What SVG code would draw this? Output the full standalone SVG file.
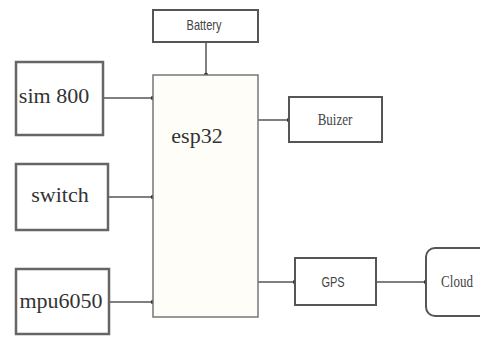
<svg xmlns="http://www.w3.org/2000/svg" width="480" height="338" viewBox="0 0 480 338">
<defs>
<marker id="dot" markerWidth="6" markerHeight="6" refX="3" refY="3" markerUnits="userSpaceOnUse">
<circle cx="3" cy="3" r="2.2" fill="#333"/>
</marker>
<style>
.box{fill:#fff;stroke:#555;stroke-width:2}
.big{fill:#fff;stroke:#666;stroke-width:2.5}
.mcu{fill:#fffdf8;stroke:#777;stroke-width:1.5}
.lbl{font-family:"Liberation Serif",serif;font-size:22px;fill:#333;text-anchor:middle}
.sm{font-family:"Liberation Sans",sans-serif;font-size:11px;fill:#444;text-anchor:middle}
.sms{font-family:"Liberation Serif",serif;font-size:13px;fill:#444;text-anchor:middle}
.con{stroke:#555;stroke-width:1.5;fill:none;marker-end:url(#dot)}
</style>
</defs>
<rect width="480" height="338" fill="#fff"/>
<g id="connectors">
<line class="con" x1="206" y1="42" x2="206" y2="75"/>
<line class="con" x1="103" y1="98" x2="153" y2="98"/>
<line class="con" x1="108" y1="197" x2="153" y2="197"/>
<line class="con" x1="109" y1="302" x2="153" y2="302"/>
<line class="con" x1="258" y1="120" x2="289" y2="120"/>
<line class="con" x1="258" y1="282" x2="295" y2="282"/>
<line class="con" x1="376" y1="282" x2="426" y2="282"/>
</g>
<g id="battery">
<rect class="box" x="153" y="10" width="105" height="32"/>
<text class="sm" transform="translate(204,30) scale(1,1.25)">Battery</text>
</g>
<g id="esp32">
<rect class="mcu" x="153" y="75" width="105" height="242"/>
<text class="lbl" x="197" y="143">esp32</text>
</g>
<g id="sim800">
<rect class="big" x="16" y="62" width="87" height="73"/>
<text class="lbl" x="54" y="103">sim 800</text>
</g>
<g id="switch">
<rect class="big" x="16" y="164" width="92" height="66"/>
<text class="lbl" x="60" y="202">switch</text>
</g>
<g id="mpu6050">
<rect class="big" x="16" y="269" width="93" height="65"/>
<text class="lbl" x="61" y="308">mpu6050</text>
</g>
<g id="buzzer">
<rect class="box" x="289" y="97" width="93" height="45"/>
<text class="sms" transform="translate(335,125) scale(1,1.3)">Buizer</text>
</g>
<g id="gps">
<rect class="box" x="295" y="258" width="81" height="47"/>
<text class="sm" transform="translate(333,287) scale(1,1.35)">GPS</text>
</g>
<g id="cloud">
<rect class="box" x="426" y="248" width="62" height="68" rx="9" ry="9"/>
<text class="sms" transform="translate(457,287) scale(1,1.35)">Cloud</text>
</g>
</svg>
